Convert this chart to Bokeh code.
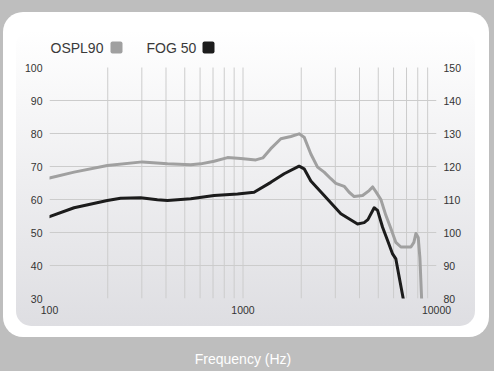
from urllib.parse import quote
from bokeh.plotting import figure
from bokeh.models import (Range1d, LinearAxis, FixedTicker, NumeralTickFormatter,
                          BoxAnnotation, Label, GlobalInlineStyleSheet)
from bokeh.embed import file_html
from bokeh.resources import INLINE

# ---- data ----
ospl_freq = [100, 134, 199, 302, 407, 537, 605, 709, 832, 974, 1165, 1266, 1392, 1569,
             1767, 1950, 2070, 2242, 2428, 2627, 2844, 3019, 3333, 3537, 3754, 4149,
             4487, 4674, 4860, 5158, 5474, 5810, 6166, 6546, 7375, 7640, 7826, 8043,
             8207, 8375]
ospl90 = [116.5, 118.3, 120.3, 121.4, 120.8, 120.5, 120.8, 121.6, 122.7, 122.4, 122.0,
          122.6, 125.4, 128.4, 129.1, 129.9, 128.9, 123.8, 119.8, 118.3, 116.3, 114.9,
          114.0, 112.2, 110.9, 111.2, 112.7, 113.8, 112.4, 110.0, 105.2, 101.2, 97.0,
          95.6, 95.6, 97.0, 99.7, 98.5, 92.4, 80.0]

fog_freq = [100, 134, 199, 233, 296, 361, 407, 537, 709, 937, 1141, 1392, 1632, 1950,
            2070, 2242, 2627, 3204, 3908, 4228, 4420, 4763, 4960, 5264, 5587, 5930,
            6166, 6414, 6729]
fog50 = [54.8, 57.5, 59.7, 60.4, 60.5, 59.9, 59.7, 60.2, 61.2, 61.7, 62.2, 65.2, 67.8,
         70.1, 69.3, 65.6, 61.2, 55.7, 52.6, 53.0, 53.9, 57.5, 56.7, 51.6, 47.6, 43.5,
         42.0, 36.5, 30.0]

x_ticks = [100, 1000, 10000]
x_grid = [200, 300, 400, 500, 600, 700, 800, 900, 1000,
          2000, 3000, 4000, 5000, 6000, 7000, 8000, 9000]
left_ticks = [30, 40, 50, 60, 70, 80, 90, 100]
left_grid = [40, 50, 60, 70, 80, 90]
right_ticks = [80, 90, 100, 110, 120, 130, 140, 150]

series_names = ["OSPL90", "FOG 50"]
series_colors = ["#a0a0a0", "#1c1c1c"]
x_label = "Frequency (Hz)"

# ---- styles ----
W, H = 494, 371
BG = "#bebebe"
FONT = "Liberation Sans"
TICK_COLOR = "#333333"
GRID = "#cccccc"

# frame: x 49..436, y 36..298 ; axis span 30..100 occupies y 67..298
FRAME_L, FRAME_R, FRAME_T, FRAME_B = 49, 436, 36, 298
left_lo, left_hi = left_ticks[0], left_ticks[-1]
right_lo = right_ticks[0]
px_per_unit = (FRAME_B - 67) / (left_hi - left_lo)
extra = (67 - FRAME_T) / px_per_unit   # room above the axis top for the legend

# background panels (pure styling) as a CSS background image
bg_svg = (
    '<svg xmlns="http://www.w3.org/2000/svg" width="%d" height="%d">'
    '<defs><linearGradient id="g" x1="0" y1="0" x2="0" y2="1">'
    '<stop offset="0" stop-color="#ffffff"/><stop offset="1" stop-color="#dedee2"/>'
    '</linearGradient></defs>'
    '<rect width="%d" height="%d" fill="%s"/>'
    '<rect x="3" y="12" width="486" height="325" rx="20" ry="20" fill="#ffffff"/>'
    '<rect x="16" y="30" width="459" height="296" rx="15" ry="15" fill="url(#g)"/>'
    '</svg>' % (W, H, W, H, BG)
)

p = figure(width=W, height=H, x_axis_type="log",
           x_range=Range1d(x_ticks[0], x_ticks[-1]),
           y_range=Range1d(left_lo, left_hi + extra),
           output_backend="svg", toolbar_location=None,
           min_border_left=FRAME_L, min_border_right=W - FRAME_R,
           min_border_top=FRAME_T, min_border_bottom=H - FRAME_B)
p.extra_y_ranges = {"right": Range1d(right_lo, right_lo + (left_hi - left_lo) + extra)}
p.border_fill_color = None
p.background_fill_color = None
p.outline_line_color = None
p.styles = {"background-image": 'url("data:image/svg+xml,%s")' % quote(bg_svg),
            "background-size": "%dpx %dpx" % (W, H),
            "background-repeat": "no-repeat"}
p.stylesheets = [GlobalInlineStyleSheet(css="html, body { background: %s; }" % BG)]

# grids: horizontal via grid, vertical as segments limited to the axis span
p.xgrid.grid_line_color = None
p.ygrid.ticker = FixedTicker(ticks=left_grid)
p.ygrid.grid_line_color = GRID
p.ygrid.grid_line_width = 1
p.segment(x0=x_grid, x1=x_grid, y0=[left_lo] * len(x_grid), y1=[left_hi] * len(x_grid),
          line_color=GRID, line_width=1)

# axes
def style_axis(ax, standoff):
    ax.axis_line_color = None
    ax.major_tick_line_color = None
    ax.minor_tick_line_color = None
    ax.major_tick_in = 0
    ax.major_tick_out = 0
    ax.minor_tick_in = 0
    ax.minor_tick_out = 0
    ax.major_label_standoff = standoff
    ax.major_label_text_font = FONT
    ax.major_label_text_font_size = "10.5px"
    ax.major_label_text_color = TICK_COLOR

xax = p.xaxis[0]
xax.ticker = FixedTicker(ticks=x_ticks)
xax.formatter = NumeralTickFormatter(format="0")
style_axis(xax, 7)
xax.axis_label = x_label
xax.axis_label_text_color = "white"
xax.axis_label_text_font = FONT
xax.axis_label_text_font_size = "14px"
xax.axis_label_text_font_style = "normal"
xax.axis_label_standoff = 34

yax = p.yaxis[0]
yax.ticker = FixedTicker(ticks=left_ticks)
style_axis(yax, 7)

rax = LinearAxis(y_range_name="right", ticker=FixedTicker(ticks=right_ticks))
style_axis(rax, 7)
p.add_layout(rax, "right")

# lines
p.line(ospl_freq, ospl90, y_range_name="right", line_color=series_colors[0],
       line_width=3, line_join="round", line_cap="round")
p.line(fog_freq, fog50, line_color=series_colors[1],
       line_width=3, line_join="round", line_cap="round")

# custom legend: label then square
legend_x = [50, 146]
square_x = [110, 202]
for name, colr, lx, sx in zip(series_names, series_colors, legend_x, square_x):
    p.add_layout(Label(x=lx, y=47, x_units="canvas", y_units="canvas", text=name,
                       text_font=FONT, text_font_size="14px", text_color="#3a3a3a",
                       text_baseline="middle", text_align="left"))
    p.add_layout(BoxAnnotation(left=sx, right=sx + 12, top=41, bottom=53,
                               left_units="canvas", right_units="canvas",
                               top_units="canvas", bottom_units="canvas",
                               fill_color=colr, fill_alpha=1, line_color=None,
                               border_radius=2, level="overlay"))

open("out.html", "w").write(file_html(p, INLINE))
